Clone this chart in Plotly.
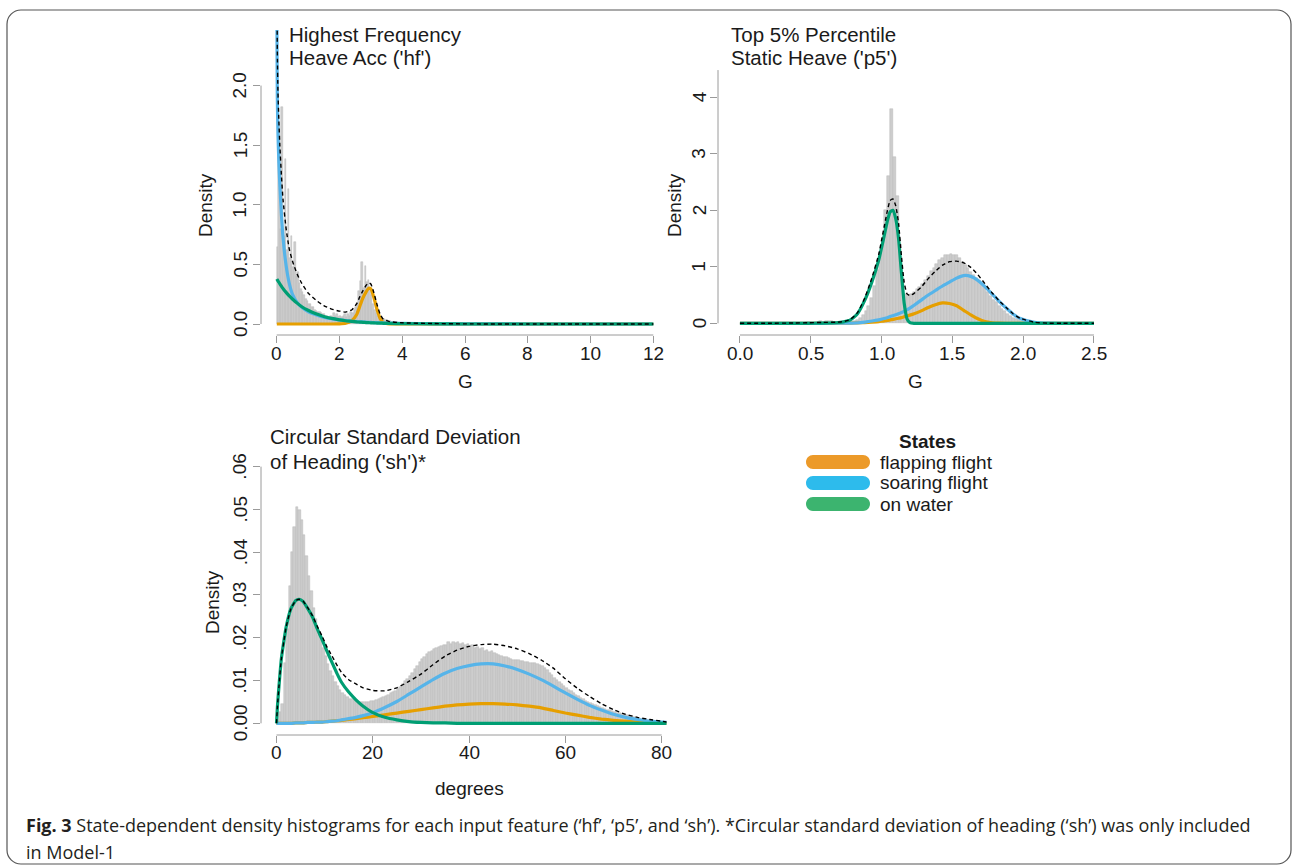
import numpy as np
import plotly.graph_objects as go

W, H = 1293, 868
FONT = "Liberation Sans, Arial, Helvetica, sans-serif"
CAPTION_FONT = "Open Sans, Noto Sans, sans-serif"
TXT = "#1a1a1a"
AXIS_GRAY = "#9a9a9a"
HIST_FILL = "#cdcdcd"
HIST_EDGE = "#b8b8b8"

# ---------------- Panel 1: Highest Frequency Heave Acc ('hf') ----------------
hf_bin_start = 0.0
hf_bin_width = 0.05
hf_hist = [
    0.65, 1.66, 0.80, 1.82, 0.74, 1.38, 0.62, 1.13, 0.55, 0.74,
    0.48, 0.69, 0.40, 0.44, 0.34, 0.29, 0.27, 0.24, 0.21, 0.19,
    0.17, 0.17, 0.14, 0.14, 0.12, 0.11, 0.10, 0.10, 0.09, 0.08,
    0.08, 0.07, 0.07, 0.06, 0.07, 0.06, 0.09, 0.07, 0.08, 0.06,
    0.07, 0.06, 0.07, 0.08, 0.06, 0.08, 0.07, 0.10, 0.09, 0.12,
    0.14, 0.18, 0.28, 0.36, 0.52, 0.30, 0.49, 0.35, 0.37, 0.30,
    0.24, 0.17, 0.12, 0.09, 0.07, 0.06, 0.05, 0.045, 0.04, 0.035,
    0.03, 0.028, 0.025, 0.02, 0.018, 0.015, 0.013, 0.011, 0.01, 0.009,
    0.008, 0.007, 0.006, 0.005, 0.004, 0.004, 0.003, 0.003, 0.002, 0.002,
]
hf_x = [0.004, 0.01, 0.02, 0.04, 0.07, 0.1, 0.15, 0.2, 0.3, 0.4,
        0.5, 0.65, 0.8, 1.0, 1.25, 1.5, 1.75, 2.0, 2.2, 2.4,
        2.55, 2.65, 2.75, 2.85, 2.93, 3.0, 3.1, 3.2, 3.3, 3.4,
        3.6, 4.0, 5.0, 6.0, 8.0, 10.0, 12.0]
hf_flapping = [0, 0, 0, 0, 0, 0, 0, 0, 0, 0,
               0, 0, 0, 0, 0, 0, 0, 0.001, 0.006, 0.03,
               0.08, 0.15, 0.22, 0.27, 0.30, 0.295, 0.22, 0.12, 0.045, 0.012,
               0.001, 0, 0, 0, 0, 0, 0]
hf_soaring = [3.0, 2.35, 1.9, 1.6, 1.35, 1.17, 0.92, 0.73, 0.49, 0.34,
              0.25, 0.18, 0.14, 0.105, 0.078, 0.057, 0.044, 0.034, 0.028, 0.023,
              0.02, 0.018, 0.017, 0.015, 0.014, 0.013, 0.012, 0.011, 0.010, 0.009,
              0.007, 0.005, 0.002, 0.001, 0.0, 0.0, 0.0]
hf_water = [0.378, 0.375, 0.37, 0.362, 0.35, 0.337, 0.317, 0.298, 0.265, 0.235,
            0.21, 0.175, 0.145, 0.115, 0.085, 0.063, 0.047, 0.035, 0.027, 0.022,
            0.018, 0.016, 0.014, 0.012, 0.011, 0.010, 0.009, 0.008, 0.007, 0.006,
            0.005, 0.003, 0.001, 0.0, 0.0, 0.0, 0.0]
hf_total = [3.4, 2.75, 2.3, 1.95, 1.7, 1.5, 1.25, 1.05, 0.80, 0.63,
            0.53, 0.42, 0.34, 0.26, 0.20, 0.155, 0.125, 0.108, 0.10, 0.12,
            0.17, 0.23, 0.28, 0.325, 0.345, 0.335, 0.26, 0.16, 0.08, 0.04,
            0.02, 0.01, 0.004, 0.001, 0.0, 0.0, 0.0]
hf_xticks = [0, 2, 4, 6, 8, 10, 12]
hf_xlabels = ["0", "2", "4", "6", "8", "10", "12"]
hf_yticks = [0, 0.5, 1.0, 1.5, 2.0]
hf_ylabels = ["0.0", "0.5", "1.0", "1.5", "2.0"]

# ---------------- Panel 2: Top 5% Percentile Static Heave ('p5') ----------------
p5_bin_start = 0.38
p5_bin_width = 0.02
p5_hist = [
    0.005, 0.005, 0.01, 0.01, 0.015, 0.02, 0.02, 0.03, 0.03, 0.035,
    0.03, 0.035, 0.04, 0.035, 0.03, 0.025, 0.02, 0.02, 0.02, 0.025,
    0.03, 0.04, 0.06, 0.09, 0.14, 0.22, 0.30, 0.45, 0.66, 0.95,
    1.25, 1.50, 2.00, 2.60, 3.80, 2.95, 2.25, 1.40, 0.78, 0.52,
    0.50, 0.52, 0.55, 0.60, 0.64, 0.70, 0.76, 0.84, 0.92, 0.98,
    1.05, 1.12, 1.16, 1.20, 1.21, 1.22, 1.21, 1.20, 1.15, 1.09,
    1.04, 0.97, 0.91, 0.86, 0.81, 0.74, 0.68, 0.62, 0.55, 0.48,
    0.42, 0.37, 0.31, 0.26, 0.22, 0.17, 0.13, 0.10, 0.08, 0.06,
    0.045, 0.035, 0.025, 0.018, 0.012, 0.008, 0.005, 0.003, 0.002, 0.001,
]
p5_x = [0.0, 0.18, 0.38, 0.48, 0.58, 0.68, 0.73, 0.78, 0.83, 0.88,
        0.93, 0.98, 1.01, 1.04, 1.06, 1.08, 1.10, 1.12, 1.14, 1.16,
        1.18, 1.20, 1.23, 1.28, 1.33, 1.38, 1.43, 1.48, 1.53, 1.58,
        1.63, 1.68, 1.73, 1.78, 1.83, 1.88, 1.93, 1.98, 2.08, 2.18,
        2.28, 2.5]
p5_flapping = [0, 0, 0, 0, 0, 0.001, 0.002, 0.004, 0.007, 0.012,
               0.02, 0.03, 0.04, 0.05, 0.06, 0.07, 0.08, 0.09, 0.10, 0.115,
               0.13, 0.145, 0.17, 0.22, 0.28, 0.33, 0.36, 0.35, 0.31, 0.23,
               0.15, 0.08, 0.03, 0.01, 0.002, 0, 0, 0, 0, 0,
               0, 0]
p5_soaring = [0, 0, 0, 0, 0, 0.001, 0.002, 0.004, 0.008, 0.02,
              0.04, 0.06, 0.08, 0.10, 0.12, 0.135, 0.15, 0.17, 0.19, 0.21,
              0.24, 0.27, 0.32, 0.41, 0.50, 0.58, 0.66, 0.73, 0.80, 0.845,
              0.83, 0.76, 0.65, 0.52, 0.39, 0.27, 0.16, 0.085, 0.018, 0.002,
              0, 0]
p5_water = [0, 0, 0, 0, 0.002, 0.01, 0.025, 0.06, 0.17, 0.40,
            0.72, 1.12, 1.45, 1.80, 1.97, 2.0, 1.85, 1.50, 0.90, 0.35,
            0.08, 0.01, 0, 0, 0, 0, 0, 0, 0, 0,
            0, 0, 0, 0, 0, 0, 0, 0, 0, 0,
            0, 0]
p5_total = [0, 0.001, 0.005, 0.01, 0.015, 0.02, 0.03, 0.07, 0.19, 0.44,
            0.79, 1.22, 1.6, 1.98, 2.17, 2.2, 2.08, 1.77, 1.2, 0.72,
            0.52, 0.49, 0.53, 0.64, 0.79, 0.92, 1.03, 1.09, 1.10, 1.07,
            0.99, 0.86, 0.70, 0.54, 0.40, 0.28, 0.165, 0.088, 0.019, 0.002,
            0, 0]
p5_xticks = [0.0, 0.5, 1.0, 1.5, 2.0, 2.5]
p5_xlabels = ["0.0", "0.5", "1.0", "1.5", "2.0", "2.5"]
p5_yticks = [0, 1, 2, 3, 4]
p5_ylabels = ["0", "1", "2", "3", "4"]

# ---------------- Panel 3: Circular Standard Deviation of Heading ('sh') ----------------
sh_bin_start = 0.0
sh_bin_width = 0.5
sh_hist = [
    0.0005, 0.0026, 0.0045, 0.014, 0.022, 0.032, 0.040, 0.046, 0.0505, 0.0498,
    0.0475, 0.044, 0.039, 0.0345, 0.031, 0.027, 0.0245, 0.0215, 0.0195, 0.0175,
    0.0158, 0.0138, 0.0122, 0.011, 0.0097, 0.0088, 0.0078, 0.0071, 0.0066, 0.0061,
    0.0058, 0.0056, 0.0054, 0.0052, 0.0051, 0.0050, 0.0050, 0.0051, 0.0051, 0.0052,
    0.0053, 0.0055, 0.0057, 0.0060, 0.0062, 0.0064, 0.0067, 0.0070, 0.0073, 0.0076,
    0.0080, 0.0085, 0.0092, 0.0098, 0.0104, 0.0110, 0.0118, 0.0126, 0.0135, 0.0143,
    0.0150, 0.0156, 0.0162, 0.0166, 0.0170, 0.0174, 0.0177, 0.0179, 0.0181, 0.0183,
    0.0184, 0.0189, 0.0185, 0.0191, 0.0188, 0.0190, 0.0186, 0.0188, 0.0183, 0.0185,
    0.0180, 0.0182, 0.0177, 0.0178, 0.0174, 0.0175, 0.0170, 0.0172, 0.0167, 0.0168,
    0.0164, 0.0162, 0.0160, 0.0158, 0.0156, 0.0154, 0.0152, 0.0151, 0.0149, 0.0148,
    0.0147, 0.0146, 0.0145, 0.0144, 0.0143, 0.0142, 0.0141, 0.0140, 0.0138, 0.0136,
    0.0133, 0.0129, 0.0124, 0.0118, 0.0112, 0.0106, 0.0101, 0.0096, 0.0092, 0.0088,
    0.0083, 0.0079, 0.0075, 0.0071, 0.0067, 0.0063, 0.0059, 0.0056, 0.0053, 0.0050,
    0.0047, 0.0045, 0.0043, 0.0041, 0.0038, 0.0036, 0.0034, 0.0032, 0.0030, 0.0029,
    0.0027, 0.0025, 0.0024, 0.0022, 0.0021, 0.0019, 0.0017, 0.0016, 0.0014, 0.0013,
    0.0012, 0.0011, 0.0010, 0.0009, 0.0008, 0.0007, 0.0006, 0.0005, 0.0004, 0.0003,
    0.0002, 0.0001,
]
sh_x = [0, 0.2, 0.5, 1, 1.5, 2, 3, 4, 4.7, 5.5,
        6.5, 7.5, 8.5, 9.5, 10.5, 11.5, 12.5, 13.5, 15, 16.5,
        18, 20, 22.5, 25, 27.5, 30, 32.5, 35, 37.5, 40,
        42.5, 45, 47.5, 50, 52.5, 55, 57.5, 60, 62.5, 65,
        67.5, 70, 72.5, 75, 77.5, 80, 81]
sh_flapping = [0, 0, 0, 0, 0, 0, 0, 0.0001, 0.0001, 0.0001,
               0.0002, 0.0002, 0.0003, 0.0003, 0.0004, 0.0005, 0.0006, 0.0007, 0.0009, 0.0011,
               0.0013, 0.0016, 0.0020, 0.0024, 0.0028, 0.0032, 0.0036, 0.0040, 0.0043, 0.0045,
               0.0046, 0.0046, 0.0045, 0.0043, 0.0040, 0.0036, 0.0030, 0.0024, 0.0019, 0.0014,
               0.0010, 0.0007, 0.0005, 0.0003, 0.0002, 0.0001, 0.0]
sh_soaring = [0, 0, 0, 0, 0, 0, 0, 0.0001, 0.0001, 0.0001,
              0.0002, 0.0002, 0.0003, 0.0003, 0.0004, 0.0005, 0.0006, 0.0008, 0.0011, 0.0014,
              0.0018, 0.0025, 0.0037, 0.0051, 0.0068, 0.0085, 0.0102, 0.0117, 0.0128, 0.0135,
              0.0139, 0.0139, 0.0134, 0.0126, 0.0115, 0.0102, 0.0087, 0.0071, 0.0056, 0.0042,
              0.0031, 0.0021, 0.0014, 0.0009, 0.0005, 0.0003, 0.0002]
sh_water = [0, 0.004, 0.0085, 0.015, 0.019, 0.0225, 0.0268, 0.0287, 0.029, 0.0285,
            0.0268, 0.0248, 0.0220, 0.0195, 0.0168, 0.0143, 0.0118, 0.0096, 0.0073, 0.0055,
            0.0040, 0.0025, 0.0014, 0.0008, 0.0004, 0.0002, 0.0001, 0.0001, 0, 0,
            0, 0, 0, 0, 0, 0, 0, 0, 0, 0,
            0, 0, 0, 0, 0, 0, 0]
sh_total = [0, 0.004, 0.0085, 0.015, 0.019, 0.0225, 0.0268, 0.0287, 0.029, 0.0286,
            0.0270, 0.0251, 0.0226, 0.0203, 0.0178, 0.0158, 0.0137, 0.0119, 0.0102, 0.0092,
            0.0083, 0.0077, 0.0076, 0.0083, 0.0098, 0.0115, 0.0137, 0.0157, 0.0171, 0.0180,
            0.0184, 0.0185, 0.0181, 0.0174, 0.0163, 0.0148, 0.0129, 0.0104, 0.0082, 0.0063,
            0.0046, 0.0032, 0.0021, 0.0014, 0.0009, 0.0005, 0.0003]
sh_xticks = [0, 20, 40, 60, 80]
sh_xlabels = ["0", "20", "40", "60", "80"]
sh_yticks = [0, 0.01, 0.02, 0.03, 0.04, 0.05, 0.06]
sh_ylabels = ["0.00", ".01", ".02", ".03", ".04", ".05", ".06"]

# ---------------- States / legend ----------------
legend_title = "States"
states = ["flapping flight", "soaring flight", "on water"]
state_colors = ["#E69F00", "#56B4E9", "#009E73"]
legend_colors = ["#EC9A29", "#2DBBEC", "#3CB46F"]

caption_bold = "Fig. 3"
caption_line1 = (" State-dependent density histograms for each input feature (\u2018hf\u2019, \u2018p5\u2019, "
                 "and \u2018sh\u2019). *Circular standard deviation of heading (\u2018sh\u2019) was only included")
caption_line2 = "in Model-1"


def px2x(p):
    return p / W


def px2y(p):
    return 1 - p / H


panels = [
    dict(n=1, box=(261, 669, 30, 335), xr=[-0.5, 12.5], yr=[-0.0923, 2.466],
         start=hf_bin_start, bw=hf_bin_width, hist=hf_hist, cx=hf_x,
         curves=[hf_flapping, hf_soaring, hf_water], total=hf_total,
         xt=hf_xticks, xl=hf_xlabels, yt=hf_yticks, yl=hf_ylabels, ytop=2.0,
         xlab_y=353, ylab_x=240,
         title=["Highest Frequency", "Heave Acc ('hf')"], tpos=(287, 35, 57),
         xtitle="G", xtpos=(465, 382), ytpos=(206, 205)),
    dict(n=2, box=(718, 1108, 52, 335), xr=[-0.155, 2.599], yr=[-0.207, 4.80],
         start=p5_bin_start, bw=p5_bin_width, hist=p5_hist, cx=p5_x,
         curves=[p5_flapping, p5_soaring, p5_water], total=p5_total,
         xt=p5_xticks, xl=p5_xlabels, yt=p5_yticks, yl=p5_ylabels, ytop=4.48,
         xlab_y=353, ylab_x=699,
         title=["Top 5% Percentile", "Static Heave ('p5')"], tpos=(729, 35, 57),
         xtitle="G", xtpos=(915, 382), ytpos=(675, 205)),
    dict(n=3, box=(261, 678, 460, 735), xr=[-3.22, 83.4], yr=[-0.00273, 0.06155],
         start=sh_bin_start, bw=sh_bin_width, hist=sh_hist, cx=sh_x,
         curves=[sh_flapping, sh_soaring, sh_water], total=sh_total,
         xt=sh_xticks, xl=sh_xlabels, yt=sh_yticks, yl=sh_ylabels, ytop=0.06,
         xlab_y=752, ylab_x=240,
         title=["Circular Standard Deviation", "of Heading ('sh')*"], tpos=(268, 436, 461),
         xtitle="degrees", xtpos=(469, 788), ytpos=(212, 602)),
]

fig = go.Figure()
shapes = []
annotations = []
layout_axes = {}


def ann(x, y, text, size=19, xanchor="center", angle=0, xref="paper", yref="paper",
        family=FONT, color=TXT):
    return dict(x=x, y=y, xref=xref, yref=yref, text=text, showarrow=False,
                xanchor=xanchor, yanchor="middle", textangle=angle,
                font=dict(family=family, size=size, color=color))


for p in panels:
    n = p["n"]
    xa = "x" if n == 1 else f"x{n}"
    ya = "y" if n == 1 else f"y{n}"
    centers = p["start"] + p["bw"] * (np.arange(len(p["hist"])) + 0.5)
    fig.add_trace(go.Bar(x=centers, y=p["hist"], width=p["bw"],
                         marker=dict(color=HIST_FILL, line=dict(color=HIST_EDGE, width=0.5)),
                         xaxis=xa, yaxis=ya, showlegend=False, hoverinfo="skip"))
    for vals, col in zip(p["curves"], state_colors):
        fig.add_trace(go.Scatter(x=p["cx"], y=vals, mode="lines",
                                 line=dict(color=col, width=3.2, shape="spline", smoothing=0.5),
                                 xaxis=xa, yaxis=ya, showlegend=False, hoverinfo="skip"))
    fig.add_trace(go.Scatter(x=p["cx"], y=p["total"], mode="lines",
                             line=dict(color="black", width=1.4, dash="4px,3px",
                                       shape="spline", smoothing=0.5),
                             xaxis=xa, yaxis=ya, showlegend=False, hoverinfo="skip"))

    l, r, t, b = p["box"]
    common = dict(showgrid=False, zeroline=False, showline=False, ticks="outside",
                  ticklen=7, tickwidth=1, tickcolor=AXIS_GRAY, showticklabels=False,
                  fixedrange=True, automargin=False)
    layout_axes["xaxis" if n == 1 else f"xaxis{n}"] = dict(
        domain=[px2x(l), px2x(r)], range=p["xr"], tickmode="array",
        tickvals=p["xt"], anchor=ya, **common)
    layout_axes["yaxis" if n == 1 else f"yaxis{n}"] = dict(
        domain=[px2y(b), px2y(t)], range=p["yr"], tickmode="array",
        tickvals=p["yt"], anchor=xa, **common)

    shapes.append(dict(type="line", xref=xa, yref=f"{ya} domain",
                       x0=p["xt"][0], x1=p["xt"][-1], y0=0, y1=0,
                       line=dict(color=AXIS_GRAY, width=1)))
    shapes.append(dict(type="line", xref=f"{xa} domain", yref=ya,
                       x0=0, x1=0, y0=p["yt"][0], y1=p["ytop"],
                       line=dict(color=AXIS_GRAY, width=1)))

    # tick labels (as text, R style: y labels parallel to the axis)
    for v, s in zip(p["xt"], p["xl"]):
        annotations.append(ann(v, px2y(p["xlab_y"]), s, xref=xa))
    for v, s in zip(p["yt"], p["yl"]):
        annotations.append(ann(px2x(p["ylab_x"]), v, s, angle=-90, yref=ya))

    tx, ty1, ty2 = p["tpos"]
    for txt, ty in zip(p["title"], (ty1, ty2)):
        annotations.append(ann(px2x(tx), px2y(ty), txt, size=20.5, xanchor="left"))
    annotations.append(ann(px2x(p["xtpos"][0]), px2y(p["xtpos"][1]), p["xtitle"]))
    annotations.append(ann(px2x(p["ytpos"][0]), px2y(p["ytpos"][1]), "Density", angle=-90))


def stadium_path(x1, x2, yc, r):
    k = 0.5523 * r
    pts = [
        ("M", [(x1, yc - r)]),
        ("L", [(x2, yc - r)]),
        ("C", [(x2 + k, yc - r), (x2 + r, yc - k), (x2 + r, yc)]),
        ("C", [(x2 + r, yc + k), (x2 + k, yc + r), (x2, yc + r)]),
        ("L", [(x1, yc + r)]),
        ("C", [(x1 - k, yc + r), (x1 - r, yc + k), (x1 - r, yc)]),
        ("C", [(x1 - r, yc - k), (x1 - k, yc - r), (x1, yc - r)]),
    ]
    s = ""
    for cmd, coords in pts:
        s += cmd + " " + " ".join(f"{px2x(a):.6f},{px2y(b):.6f}" for a, b in coords) + " "
    return s + "Z"


# Legend
LEG_X1, LEG_X2, LEG_R = 806, 870, 7
leg_rows = [462, 483, 504]
annotations.append(ann(px2x(927), px2y(441), f"<b>{legend_title}</b>"))
for name, col, yc in zip(states, legend_colors, leg_rows):
    shapes.append(dict(type="path", xref="paper", yref="paper",
                       path=stadium_path(LEG_X1 + LEG_R, LEG_X2 - LEG_R, yc, LEG_R),
                       fillcolor=col, line=dict(width=0)))
    annotations.append(ann(px2x(878), px2y(yc), name, xanchor="left"))

# Caption
annotations.append(ann(px2x(24), px2y(825), f"<b>{caption_bold}</b>{caption_line1}",
                       size=18, xanchor="left", family=CAPTION_FONT, color="#231F20"))
annotations.append(ann(px2x(24), px2y(852), caption_line2,
                       size=18, xanchor="left", family=CAPTION_FONT, color="#231F20"))

# Rounded border around the figure
BL, BR, BT, BB, RAD = 7, 1291, 10, 864, 14
k = 0.5523 * RAD
bpath = (
    f"M {px2x(BL + RAD)},{px2y(BT)} L {px2x(BR - RAD)},{px2y(BT)} "
    f"C {px2x(BR - RAD + k)},{px2y(BT)} {px2x(BR)},{px2y(BT + RAD - k)} {px2x(BR)},{px2y(BT + RAD)} "
    f"L {px2x(BR)},{px2y(BB - RAD)} "
    f"C {px2x(BR)},{px2y(BB - RAD + k)} {px2x(BR - RAD + k)},{px2y(BB)} {px2x(BR - RAD)},{px2y(BB)} "
    f"L {px2x(BL + RAD)},{px2y(BB)} "
    f"C {px2x(BL + RAD - k)},{px2y(BB)} {px2x(BL)},{px2y(BB - RAD + k)} {px2x(BL)},{px2y(BB - RAD)} "
    f"L {px2x(BL)},{px2y(BT + RAD)} "
    f"C {px2x(BL)},{px2y(BT + RAD - k)} {px2x(BL + RAD - k)},{px2y(BT)} {px2x(BL + RAD)},{px2y(BT)} Z"
)
shapes.append(dict(type="path", xref="paper", yref="paper", path=bpath,
                   line=dict(color="#555555", width=1.2), fillcolor="rgba(0,0,0,0)", layer="below"))

fig.update_layout(
    width=W, height=H, autosize=False,
    margin=dict(l=0, r=0, t=0, b=0, pad=0),
    paper_bgcolor="white", plot_bgcolor="white",
    bargap=0, barmode="overlay",
    font=dict(family=FONT, color=TXT),
    shapes=shapes, annotations=annotations,
    showlegend=False,
    **layout_axes,
)

fig.write_html(
    "out.html",
    config={"displayModeBar": False},
    post_script="document.body.style.margin='0px';document.body.style.padding='0px';"
                "document.body.style.overflow='hidden';",
)
